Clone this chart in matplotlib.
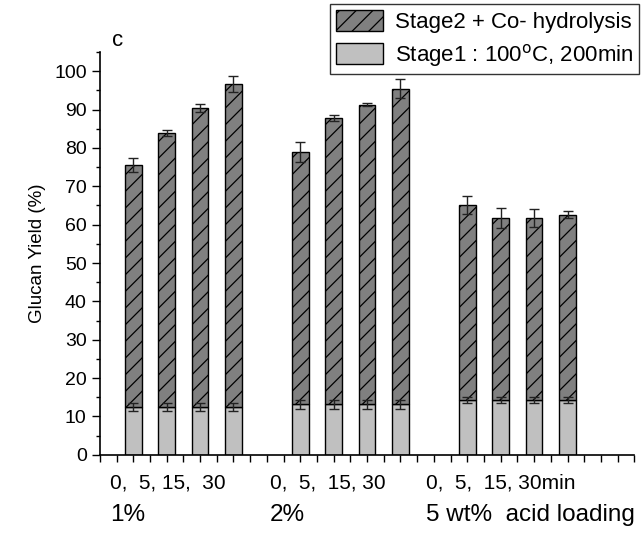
import numpy as np
import matplotlib
matplotlib.use('Agg')
import matplotlib.pyplot as plt
from matplotlib.patches import Patch
from matplotlib.ticker import MultipleLocator

plt.rcParams['font.family'] = ['Liberation Sans', 'DejaVu Sans']
plt.rcParams['hatch.linewidth'] = 0.9

# bar positions: 3 acid loadings x 4 co-hydrolysis times
pos = [1, 2, 3, 4, 6, 7, 8, 9, 11, 12, 13, 14]
total = [75.5, 84.0, 90.4, 96.7, 79.0, 87.8, 91.3, 95.5, 65.2, 61.7, 61.7, 62.6]
total_err = [1.8, 0.8, 1.0, 2.0, 2.6, 0.7, 0.4, 2.5, 2.4, 2.6, 2.3, 0.9]
stage1 = [12.4, 12.4, 12.4, 12.4, 13.2, 13.2, 13.2, 13.2, 14.3, 14.3, 14.3, 14.3]
stage1_err = [1.0, 1.0, 1.0, 1.0, 1.2, 1.2, 1.2, 1.2, 0.9, 0.9, 0.9, 0.9]
time_labels = ['0,  5, 15,  30', '0,  5,  15, 30', '0,  5,  15, 30min']
group_labels = ['1%', '2%', '5 wt%  acid loading']
label_x = [0.3, 5.1, 9.75]

stage2 = np.array(total) - np.array(stage1)

fig = plt.figure(figsize=(6.44, 5.48), dpi=100)
ax = fig.add_axes([0.155, 0.170, 0.83, 0.735])

ax.bar(pos, stage1, width=0.5, color='#c0c0c0', edgecolor='black', linewidth=1, zorder=2)
ax.bar(pos, stage2, width=0.5, bottom=stage1, color='#808080', edgecolor='black',
       linewidth=1, hatch='//', zorder=2)
ax.errorbar(pos, stage1, yerr=stage1_err, fmt='none', ecolor='#222222', elinewidth=1,
            capsize=3.6, capthick=1, zorder=3)
ax.errorbar(pos, total, yerr=total_err, fmt='none', ecolor='#222222', elinewidth=1,
            capsize=3.6, capthick=1, zorder=3)

ax.set_xlim(0, 16)
ax.set_ylim(0, 105)
ax.yaxis.set_major_locator(MultipleLocator(10))
ax.yaxis.set_minor_locator(MultipleLocator(5))
ax.xaxis.set_major_locator(MultipleLocator(0.5))
ax.set_xticklabels([])
ax.tick_params(axis='y', which='major', length=6, width=1, labelsize=14)
ax.tick_params(axis='y', which='minor', length=3, width=1)
ax.tick_params(axis='x', which='major', length=5, width=1)
for s in ['top', 'right']:
    ax.spines[s].set_visible(False)
for s in ['left', 'bottom']:
    ax.spines[s].set_linewidth(1.2)

ax.set_ylabel('Glucan Yield (%)', fontsize=13.5, labelpad=6)

trans = ax.get_xaxis_transform()
for x, t, g in zip(label_x, time_labels, group_labels):
    ax.text(x, -0.07, t, transform=trans, ha='left', va='center', fontsize=15)
    ax.text(x, -0.15, g, transform=trans, ha='left', va='center', fontsize=17.5)

fig.text(118 / 644, 1 - 40 / 548, 'c', fontsize=16, ha='center', va='center')

handles = [Patch(facecolor='#808080', edgecolor='black', hatch='//', label='Stage2 + Co- hydrolysis'),
           Patch(facecolor='#c0c0c0', edgecolor='black', label='Stage1 : 100$^{\\rm o}$C, 200min')]
leg = fig.legend(handles=handles, loc='upper right', bbox_to_anchor=(0.997, 0.998),
                 fontsize=16, frameon=True, fancybox=False, edgecolor='black',
                 handlelength=2.1, handleheight=1.1, borderpad=0.25, labelspacing=0.38,
                 handletextpad=0.55, borderaxespad=0.15)
leg.get_frame().set_linewidth(1)

fig.savefig('out.png', dpi=100)
